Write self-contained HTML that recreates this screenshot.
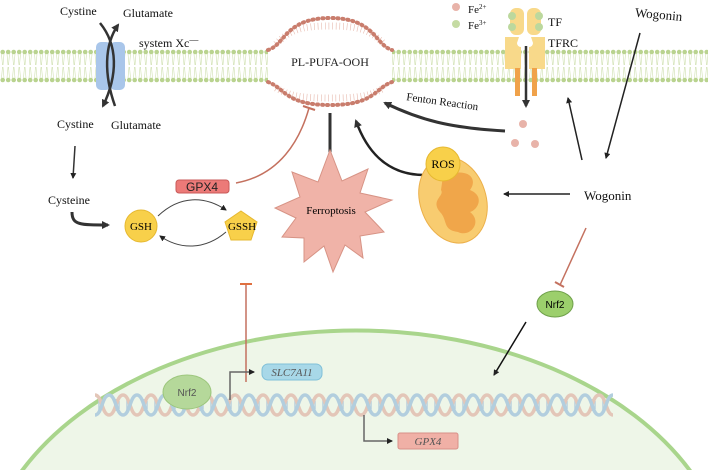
<!DOCTYPE html>
<html><head><meta charset="utf-8"><style>
html,body{margin:0;background:#fff;overflow:hidden;width:708px;height:470px}
svg{display:block;font-family:"Liberation Serif",serif}
</style></head><body>
<svg width="708" height="470" viewBox="0 0 708 470">
<defs>
<marker id="a" markerWidth="8" markerHeight="8" refX="6" refY="4" orient="auto" markerUnits="userSpaceOnUse"><path d="M0,0 L8,4 L0,8 Z" fill="#333"/></marker>
<marker id="b" markerWidth="6" markerHeight="6" refX="5" refY="3" orient="auto" markerUnits="userSpaceOnUse"><path d="M0,0 L6,3 L0,6 Z" fill="#222"/></marker>
<pattern id="mem" x="0" y="49" width="5.5" height="34" patternUnits="userSpaceOnUse">
<circle cx="2.7" cy="3" r="2.3" fill="#b9d38f"/>
<circle cx="2.7" cy="31" r="2.3" fill="#b9d38f"/>
<path d="M1.5,5 L2.5,16 M4,5 L3,16 M1.5,29 L2.5,18 M4,29 L3,18" stroke="#cfe0b0" stroke-width="0.6"/>
</pattern>
<pattern id="dna" x="95" y="393" width="28" height="24" patternUnits="userSpaceOnUse">
<path d="M4,6 V18 M7,8 V16 M21,6 V18 M24,8 V16" stroke="#b9cfdc" stroke-width="1.5"/>
<path d="M0,2 C7,2 7,22 14,22 C21,22 21,2 28,2" stroke="#e3c6b8" stroke-width="3.5" fill="none"/>
<path d="M0,22 C7,22 7,2 14,2 C21,2 21,22 28,22" stroke="#b2cede" stroke-width="3.5" fill="none"/>
</pattern>
</defs>
<!-- nucleus -->
<path d="M21,472 A375,257 0 0 1 691,472" fill="#eef6e8" stroke="#a9d58c" stroke-width="4"/>
<!-- membrane -->
<rect x="0" y="49" width="268" height="34" fill="url(#mem)"/>
<rect x="392" y="49" width="316" height="34" fill="url(#mem)"/>
<!-- PUFA bulge -->
<path d="M268,50 C285,45 285,18 330,18 C375,18 375,45 392,50 L392,82 C375,88 375,105 330,105 C285,105 285,88 268,82 Z" fill="#fff"/>
<path d="M276,44 C290,30 300,26 330,26 C360,26 370,30 384,44 M276,88 C290,96 300,98 330,98 C360,98 370,96 384,88" fill="none" stroke="#e7b9ad" stroke-width="7" stroke-dasharray="0.6 3"/>
<path d="M268,50 C285,45 285,18 330,18 C375,18 375,45 392,50" fill="none" stroke="#c97d6d" stroke-width="4" stroke-dasharray="1 4" stroke-linecap="round"/>
<path d="M268,82 C285,88 285,105 330,105 C375,105 375,88 392,82" fill="none" stroke="#c97d6d" stroke-width="4" stroke-dasharray="1 4" stroke-linecap="round"/>
<text x="330" y="66" font-size="12" text-anchor="middle" fill="#222">PL-PUFA-OOH</text>
<!-- transporter -->
<rect x="96" y="42" width="15" height="48" rx="5" fill="#a9c6ea"/>
<rect x="110" y="42" width="15" height="48" rx="5" fill="#a9c6ea"/>
<path d="M100,23 C118,45 118,75 103,106" stroke="#333" stroke-width="2.5" fill="none" marker-end="url(#a)"/>
<path d="M115,106 C104,75 104,45 118,25" stroke="#333" stroke-width="2.5" fill="none" marker-end="url(#a)"/>
<g font-size="12" fill="#111">
<text x="60" y="15">Cystine</text><text x="123" y="17">Glutamate</text>
<text x="139" y="47">system Xc<tspan font-size="9" dy="-4">—</tspan></text>
<text x="57" y="128">Cystine</text><text x="111" y="129">Glutamate</text>
<text x="48" y="204">Cysteine</text>
<text x="635" y="19" transform="rotate(5 660 15)" font-size="13">Wogonin</text>
<text x="584" y="200" font-size="13">Wogonin</text>
<text x="405" y="105" transform="rotate(8 440 110)" font-size="11">Fenton Reaction</text>
<text x="468" y="13" font-size="11">Fe<tspan font-size="7" dy="-4">2+</tspan></text>
<text x="468" y="29" font-size="11">Fe<tspan font-size="7" dy="-4">3+</tspan></text>
<text x="548" y="26" font-size="12">TF</text>
<text x="548" y="47" font-size="12">TFRC</text>
</g>
<circle cx="456" cy="7" r="4" fill="#e8b3a9"/><circle cx="456" cy="24" r="4" fill="#c5dba3"/>
<!-- TF/TFRC -->
<rect x="510" y="8" width="14" height="27" rx="6" fill="#f8d98a"/>
<rect x="527" y="8" width="14" height="27" rx="6" fill="#f8d98a"/>
<circle cx="512" cy="16" r="4" fill="#bcd89d"/><circle cx="512" cy="27" r="4" fill="#bcd89d"/>
<circle cx="539" cy="16" r="4" fill="#bcd89d"/><circle cx="539" cy="27" r="4" fill="#bcd89d"/>
<path d="M505,37 h14 l-2,6 a4,4 0 0 0 4,4 v22 h-16 Z" fill="#f8d98a"/>
<path d="M545,37 h-14 l2,6 a4,4 0 0 1 -4,4 v22 h16 Z" fill="#f8d98a"/>
<rect x="515" y="68" width="5" height="28" fill="#f0a24a"/><rect x="532" y="68" width="5" height="28" fill="#f0a24a"/>
<line x1="526" y1="46" x2="526" y2="106" stroke="#333" stroke-width="2.5" marker-end="url(#a)"/>
<circle cx="523" cy="124" r="4" fill="#e8b3a9"/><circle cx="515" cy="143" r="4" fill="#e8b3a9"/><circle cx="535" cy="144" r="4" fill="#e8b3a9"/>
<!-- arrows -->
<path d="M505,131 C450,128 420,120 385,103" stroke="#333" stroke-width="3" fill="none" marker-end="url(#a)"/>
<path d="M424,175 C395,175 370,160 356,121" stroke="#222" stroke-width="2.5" fill="none" marker-end="url(#a)"/>
<line x1="330" y1="113" x2="330" y2="186" stroke="#333" stroke-width="3" marker-end="url(#a)"/>
<line x1="640" y1="33" x2="606" y2="158" stroke="#222" stroke-width="1.5" marker-end="url(#b)"/>
<line x1="582" y1="160" x2="568" y2="98" stroke="#222" stroke-width="1.5" marker-end="url(#b)"/>
<line x1="570" y1="194" x2="504" y2="194" stroke="#222" stroke-width="1.5" marker-end="url(#b)"/>
<line x1="75" y1="146" x2="73" y2="178" stroke="#333" stroke-width="1.5" marker-end="url(#b)"/>
<path d="M72,212 C72,225 80,225 108,225" stroke="#333" stroke-width="3" fill="none" marker-end="url(#a)"/>
<!-- inhibition lines -->
<path d="M236,183 C280,175 300,140 309,108" stroke="#c4715f" stroke-width="1.5" fill="none"/>
<line x1="303" y1="106" x2="315" y2="110" stroke="#c4715f" stroke-width="2"/>
<line x1="586" y1="228" x2="560" y2="285" stroke="#c4715f" stroke-width="1.5"/>
<line x1="555" y1="282" x2="564" y2="287" stroke="#c4715f" stroke-width="2"/>
<line x1="246" y1="284" x2="246" y2="382" stroke="#c4715f" stroke-width="1.5"/>
<line x1="240" y1="284" x2="252" y2="284" stroke="#e07040" stroke-width="2"/>
<line x1="526" y1="322" x2="494" y2="375" stroke="#111" stroke-width="1.5" marker-end="url(#b)"/>
<!-- GSH cycle -->
<path d="M158,216 C180,195 205,196 226,210" stroke="#444" stroke-width="1" fill="none" marker-end="url(#b)"/>
<path d="M226,232 C205,250 180,250 160,236" stroke="#444" stroke-width="1" fill="none" marker-end="url(#b)"/>
<rect x="176" y="180" width="53" height="13" rx="3" fill="#ec7a78" stroke="#c85a58"/>
<text x="202" y="191" font-size="12" text-anchor="middle" font-family="Liberation Sans,sans-serif" fill="#222">GPX4</text>
<circle cx="141" cy="226" r="16" fill="#f8d04a" stroke="#e6b830"/>
<text x="141" y="230" font-size="11" text-anchor="middle">GSH</text>
<path d="M241,211 L257,222 L251,240 L231,240 L225,222 Z" fill="#f8d04a" stroke="#e6b830"/>
<text x="242" y="230" font-size="11" text-anchor="middle">GSSH</text>
<!-- Ferroptosis star -->
<path d="M330,150 L342,181 L368,169 L360,193 L392,200 L365,212 L384,232 L360,236 L363,258 L345,245 L333,272 L324,246 L304,262 L304,238 L282,237 L296,218 L275,208 L300,197 L292,172 L318,182 Z" fill="#f0b3a8" stroke="#d79385"/>
<text x="331" y="214" font-size="11" text-anchor="middle">Ferroptosis</text>
<!-- mitochondrion -->
<ellipse cx="453" cy="200" rx="33" ry="44" transform="rotate(-18 453 200)" fill="#f8cc70" stroke="#ecb04a"/>
<path d="M443,176 C470,166 478,180 470,190 C485,196 478,210 470,212 C483,222 470,238 458,232 C442,230 448,220 440,212 C430,200 445,196 441,190 Z" fill="#f0a64a"/>
<circle cx="443" cy="164" r="17" fill="#f8d04a" stroke="#e6b830"/>
<text x="443" y="168" font-size="12" text-anchor="middle">ROS</text>
<!-- Nrf2 -->
<ellipse cx="555" cy="304" rx="18" ry="13" fill="#9ccf6c" stroke="#6fa04a"/>
<text x="555" y="308" font-size="10" text-anchor="middle" font-family="Liberation Sans,sans-serif">Nrf2</text>
<!-- DNA -->
<rect x="95" y="393" width="518" height="24" fill="url(#dna)"/>
<ellipse cx="187" cy="392" rx="24" ry="17" fill="#b5d89a" stroke="#9cc67c"/>
<text x="187" y="396" font-size="10" text-anchor="middle" fill="#555" font-family="Liberation Sans,sans-serif">Nrf2</text>
<path d="M230,400 V372 H254" stroke="#666" stroke-width="1.5" fill="none" marker-end="url(#b)"/>
<rect x="262" y="364" width="60" height="16" rx="6" fill="#a8d8e8" stroke="#80c0d8"/>
<text x="292" y="376" font-size="11" text-anchor="middle" font-style="italic" fill="#555">SLC7A11</text>
<path d="M364,415 V441 H392" stroke="#666" stroke-width="1.5" fill="none" marker-end="url(#b)"/>
<rect x="398" y="433" width="60" height="16" rx="2" fill="#f0b0a6" stroke="#d89088"/>
<text x="428" y="445" font-size="11" text-anchor="middle" font-style="italic" fill="#555">GPX4</text>
</svg>
</body></html>
